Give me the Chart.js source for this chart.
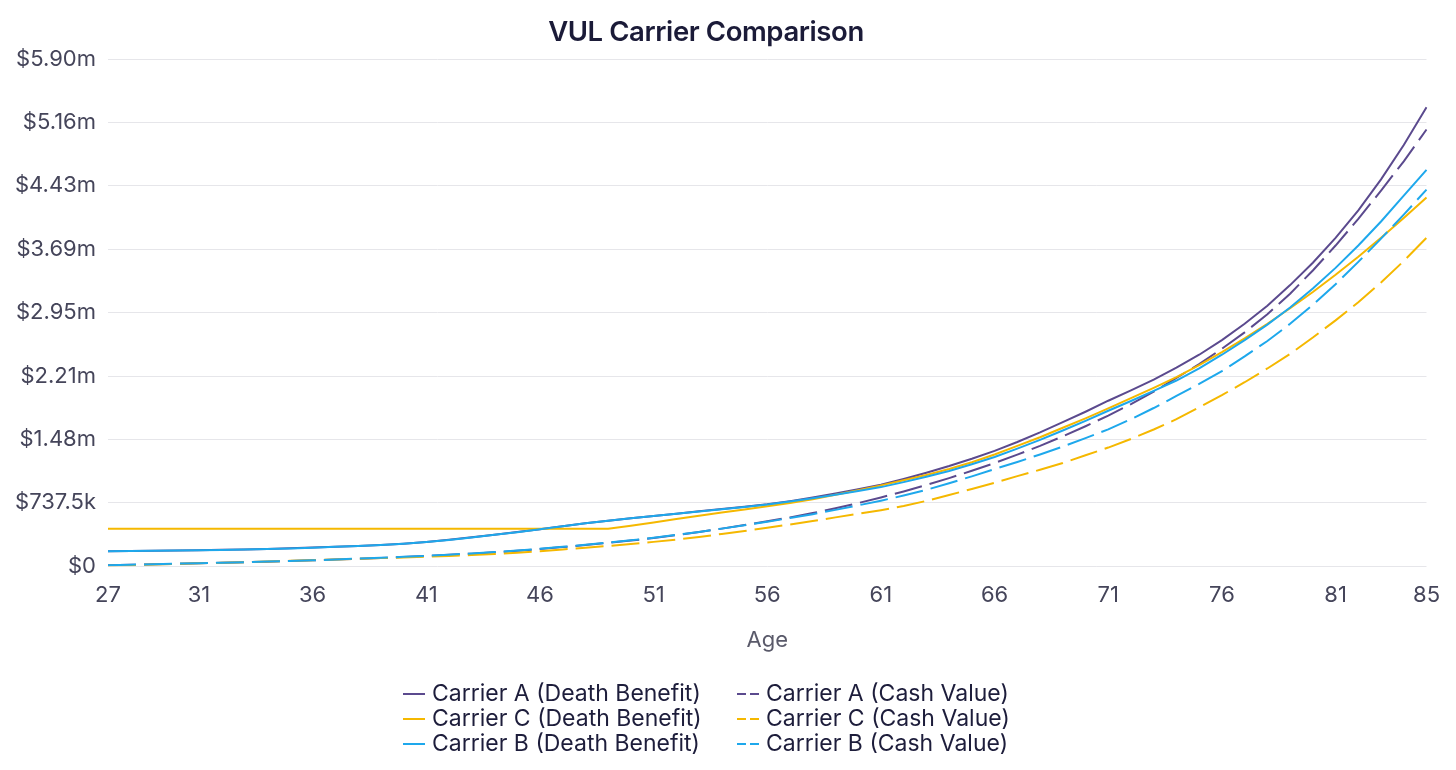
<!DOCTYPE html>
<html>
<head>
<meta charset="utf-8">
<script src="https://cdn.jsdelivr.net/npm/chart.js@4.4.1/dist/chart.umd.min.js"></script>
<style>
	body { margin: 0; background: #fff; }
	#wrap { position: relative; width: 1456px; height: 770px; font-family: Inter, 'Noto Sans', sans-serif; }
	#chart { position: absolute; left: 0; top: 0; }
	#title { position: absolute; left: 0; top: 14px; width: 1412px; text-align: center; font-size: 27.5px; font-weight: 600; color: #1b1b38; letter-spacing: -0.4px; }
	.item { position: absolute; font-size: 23px; line-height: 25px; color: #1d1d3b; white-space: nowrap; }
	.sw { display: inline-block; width: 22px; height: 2px; vertical-align: middle; margin-right: 7px; position: relative; top: -1px; }
</style>
</head>
<body>
<div id="wrap">
	<canvas id="chart" width="1456" height="770"></canvas>
	<div id="title">VUL Carrier Comparison</div>
	<div id="legend"></div>
</div>
<script>
var ages = [];
for (var a = 27; a <= 85; a++) ages.push(a);

var xTickLabels = [27, 31, 36, 41, 46, 51, 56, 61, 66, 71, 76, 81, 85];
var yTickLabels = ['$0', '$737.5k', '$1.48m', '$2.21m', '$2.95m', '$3.69m', '$4.43m', '$5.16m', '$5.90m'];

// ages 27 .. 85
var carrierADeath = [
	175000, 177000, 180000, 183000, 186000, 190000, 195000, 200000, 208000, 217000,
	226000, 236000, 247000, 262000, 282000, 307000, 336000, 366000, 397000, 430000,
	466000, 500000, 530000, 558000, 585000, 611000, 638000, 664000, 691000, 720000,
	757000, 798000, 845000, 895000, 948000, 1015000, 1088000, 1165000, 1250000, 1342000,
	1445000, 1556000, 1675000, 1797000, 1925000, 2045000, 2170000, 2310000, 2460000, 2630000,
	2820000, 3030000, 3270000, 3530000, 3820000, 4140000, 4500000, 4900000, 5340000
];
var carrierACash = [
	10000, 16000, 22000, 28000, 34000, 40000, 46000, 53000, 60000, 68000,
	77000, 86000, 96000, 107000, 119000, 132000, 146000, 162000, 180000, 200000,
	222000, 246000, 271000, 298000, 328000, 362000, 398000, 437000, 478000, 522000,
	568000, 618000, 673000, 734000, 800000, 870000, 945000, 1025000, 1110000, 1200000,
	1298000, 1400000, 1510000, 1628000, 1752000, 1885000, 2030000, 2190000, 2350000, 2530000,
	2720000, 2930000, 3170000, 3440000, 3730000, 4040000, 4370000, 4710000, 5080000
];
var carrierCDeath = [
	435000, 435000, 435000, 435000, 435000, 435000, 435000, 435000, 435000, 435000,
	435000, 435000, 435000, 435000, 435000, 435000, 435000, 435000, 435000, 435000,
	435000, 435000, 435000, 470000, 508000, 548000, 588000, 625000, 660000, 697000,
	736000, 780000, 830000, 883000, 940000, 1000000, 1062000, 1130000, 1210000, 1300000,
	1400000, 1500000, 1610000, 1720000, 1835000, 1955000, 2075000, 2200000, 2340000, 2490000,
	2650000, 2820000, 3000000, 3190000, 3390000, 3600000, 3820000, 4050000, 4290000
];
var carrierCCash = [
	5000, 12000, 19000, 26000, 33000, 40000, 47000, 54000, 62000, 70000,
	78000, 86000, 94000, 102000, 110000, 120000, 130000, 142000, 157000, 175000,
	195000, 215000, 235000, 258000, 283000, 310000, 340000, 375000, 410000, 447000,
	485000, 525000, 568000, 610000, 652000, 700000, 760000, 828000, 898000, 970000,
	1048000, 1122000, 1200000, 1290000, 1380000, 1480000, 1590000, 1710000, 1850000, 1990000,
	2140000, 2300000, 2470000, 2660000, 2860000, 3070000, 3300000, 3550000, 3820000
];
var carrierBDeath = [
	173000, 176000, 179000, 182000, 185000, 189000, 194000, 199000, 207000, 216000,
	225000, 235000, 246000, 261000, 281000, 306000, 335000, 365000, 396000, 429000,
	465000, 499000, 529000, 557000, 584000, 610000, 636000, 662000, 689000, 717000,
	752000, 790000, 832000, 876000, 920000, 978000, 1040000, 1108000, 1186000, 1270000,
	1368000, 1470000, 1578000, 1690000, 1808000, 1922000, 2040000, 2160000, 2300000, 2460000,
	2630000, 2810000, 3010000, 3230000, 3470000, 3730000, 4010000, 4310000, 4610000
];
var carrierBCash = [
	11000, 17000, 23000, 29000, 35000, 41000, 47000, 54000, 61000, 69000,
	78000, 88000, 98000, 109000, 121000, 134000, 148000, 164000, 182000, 203000,
	225000, 249000, 274000, 301000, 331000, 364000, 399000, 437000, 476000, 518000,
	560000, 605000, 655000, 708000, 762000, 822000, 888000, 965000, 1045000, 1130000,
	1212000, 1300000, 1392000, 1490000, 1592000, 1710000, 1840000, 1980000, 2120000, 2270000,
	2440000, 2620000, 2820000, 3040000, 3280000, 3540000, 3810000, 4090000, 4380000
];

var purple = '#5b4a8e';
var gold = '#f5b800';
var blue = '#1ea8ec';

var seriesList = [
	{ label: 'Carrier A (Death Benefit)', data: carrierADeath, color: purple, dash: false },
	{ label: 'Carrier A (Cash Value)', data: carrierACash, color: purple, dash: true },
	{ label: 'Carrier C (Death Benefit)', data: carrierCDeath, color: gold, dash: false },
	{ label: 'Carrier C (Cash Value)', data: carrierCCash, color: gold, dash: true },
	{ label: 'Carrier B (Death Benefit)', data: carrierBDeath, color: blue, dash: false },
	{ label: 'Carrier B (Cash Value)', data: carrierBCash, color: blue, dash: true }
];

// blue on top, then gold, then purple
var drawOrder = [3, 3, 2, 2, 1, 1];

var datasets = seriesList.map(function(s, i) {
	return {
		label: s.label,
		data: s.data,
		borderColor: s.color,
		backgroundColor: s.color,
		borderWidth: 2,
		borderDash: s.dash ? [28, 8] : [],
		pointRadius: 0,
		tension: 0,
		fill: false,
		order: drawOrder[i]
	};
});

Chart.defaults.font.family = 'Inter, "Noto Sans", sans-serif';

new Chart(document.getElementById('chart').getContext('2d'), {
	type: 'line',
	data: { labels: ages, datasets: datasets },
	options: {
		responsive: false,
		animation: false,
		layout: { padding: { left: 0, right: 24, top: 59, bottom: 112 } },
		plugins: {
			legend: { display: false },
			title: { display: false },
			tooltip: { enabled: false }
		},
		scales: {
			x: {
				type: 'category',
				grid: { display: false, drawTicks: false },
				border: { display: false },
				ticks: {
					autoSkip: false,
					maxRotation: 0,
					padding: 16,
					color: '#45455a',
					font: { size: 22 },
					callback: function(val, i) {
						return xTickLabels.indexOf(ages[i]) >= 0 ? String(ages[i]) : null;
					}
				},
				title: {
					display: true,
					text: 'Age',
					color: '#5a5a6a',
					font: { size: 22 },
					padding: { top: 3, bottom: 4 }
				}
			},
			y: {
				min: 0,
				max: 5900000,
				grid: { color: '#e6e6ea', lineWidth: 1, drawTicks: false },
				border: { display: false },
				ticks: {
					stepSize: 737500,
					padding: 12,
					color: '#45455a',
					font: { size: 22 },
					callback: function(val, i) { return yTickLabels[i]; }
				},
				afterFit: function(scale) { scale.width = 108; }
			}
		}
	}
});

// legend, two columns as in the original
var legendBox = document.getElementById('legend');
var colLeft = [403, 737];
var rowTop = [681, 706, 731];
seriesList.forEach(function(s, i) {
	var item = document.createElement('div');
	item.className = 'item';
	item.style.left = colLeft[i % 2] + 'px';
	item.style.top = rowTop[Math.floor(i / 2)] + 'px';
	var sw = document.createElement('span');
	sw.className = 'sw';
	if (s.dash) {
		sw.style.background = 'linear-gradient(to right, ' + s.color + ' 0 9px, transparent 9px 13px, ' + s.color + ' 13px 22px)';
	} else {
		sw.style.background = s.color;
	}
	item.appendChild(sw);
	item.appendChild(document.createTextNode(s.label));
	legendBox.appendChild(item);
});
</script>
</body>
</html>
